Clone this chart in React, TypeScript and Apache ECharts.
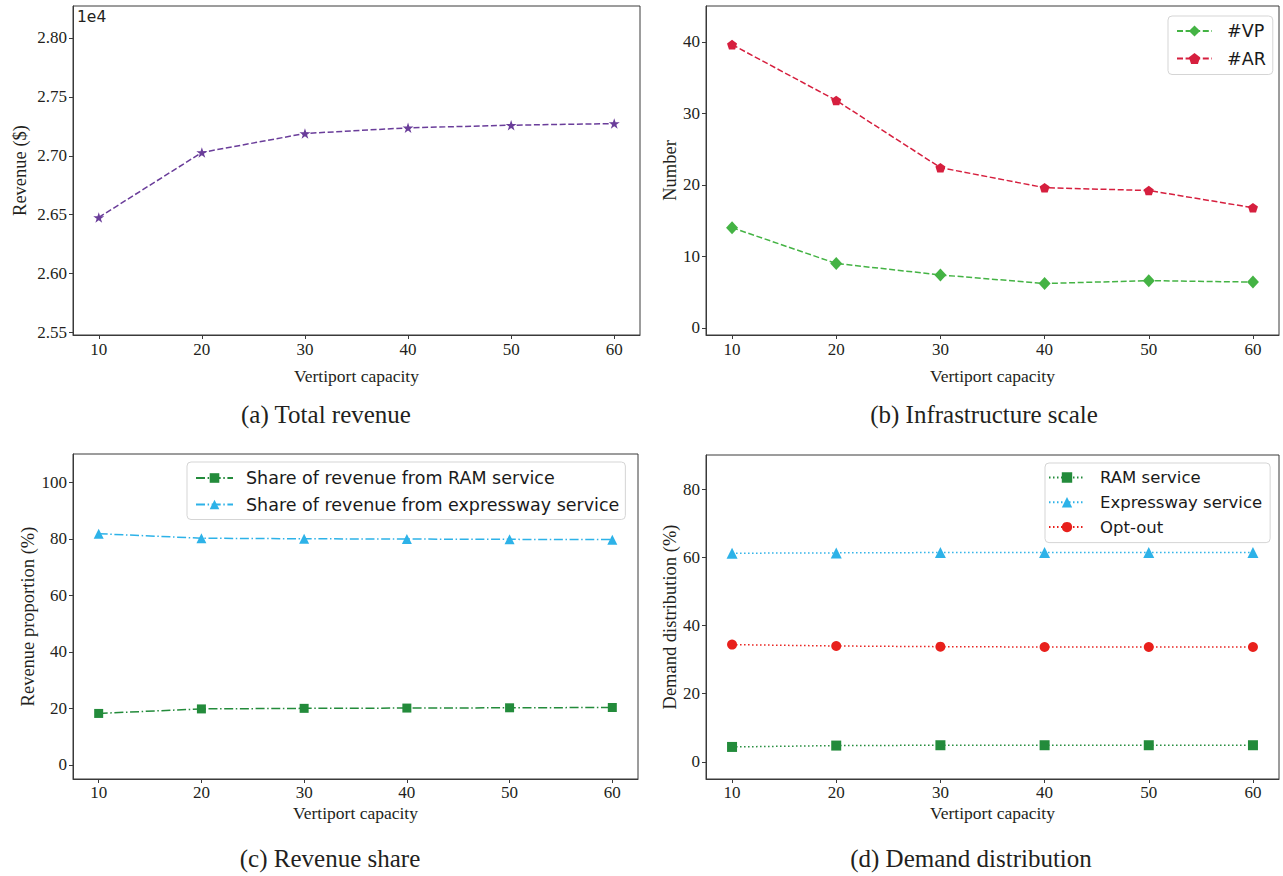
import React, { useEffect, useRef } from "react";
import * as echarts from "echarts";

// ---- data ----
const capacities = [10, 20, 30, 40, 50, 60];
const capacityTicks = [10, 20, 30, 40, 50, 60];

const totalRevenue = [26477, 27028, 27189, 27237, 27259, 27273];
const revenueTicks = [25500, 26000, 26500, 27000, 27500, 28000];

const vpCount = [14.0, 9.0, 7.4, 6.2, 6.6, 6.4];
const arCount = [39.6, 31.8, 22.4, 19.6, 19.2, 16.8];
const numberTicks = [0, 10, 20, 30, 40];

const ramRevenueShare = [18.2, 19.8, 20.0, 20.1, 20.2, 20.3];
const expresswayRevenueShare = [81.8, 80.2, 80.0, 79.9, 79.8, 79.7];
const shareTicks = [0, 20, 40, 60, 80, 100];

const ramDemand = [4.4, 4.8, 4.9, 4.9, 4.9, 4.9];
const expresswayDemand = [61.2, 61.3, 61.4, 61.4, 61.4, 61.4];
const optOutDemand = [34.4, 34.0, 33.8, 33.7, 33.7, 33.7];
const demandTicks = [0, 20, 40, 60, 80];

const captions = [
  "(a) Total revenue",
  "(b) Infrastructure scale",
  "(c) Revenue share",
  "(d) Demand distribution",
];

const STAR =
  "path://M0,-100L22.45,-30.9L95.11,-30.9L36.33,11.8L58.78,80.9L0,38.2L-58.78,80.9L-36.33,11.8L-95.11,-30.9L-22.45,-30.9Z";
const PENTAGON = "path://M0,-100L95.11,-30.9L58.78,80.9L-58.78,80.9L-95.11,-30.9Z";

const SERIF = "Liberation Serif";
const SANS = "DejaVu Sans";
const TXT = "#231f20";
const FRAME = "#3a3a3a";

const pairs = (ys: number[]) => capacities.map((x, i) => [x, ys[i]]);

function xAxis(gridIndex: number, nameGap: number, labelMargin: number) {
  return {
    type: "value",
    gridIndex,
    min: 7.5,
    max: 62.5,
    name: "Vertiport capacity",
    nameLocation: "middle",
    nameGap,
    nameTextStyle: { fontFamily: SERIF, fontSize: 17.5, color: TXT },
    axisLine: { show: true, onZero: false, lineStyle: { color: FRAME, width: 1 } },
    axisTick: { show: true, length: 4, customValues: capacityTicks, lineStyle: { color: FRAME } },
    axisLabel: {
      customValues: capacityTicks,
      margin: labelMargin,
      fontFamily: SERIF,
      fontSize: 17,
      color: TXT,
    },
    splitLine: { show: false },
  };
}

function yAxis(
  gridIndex: number,
  name: string,
  nameGap: number,
  min: number,
  max: number,
  ticks: number[],
  fmt?: (v: number) => string
) {
  return {
    type: "value",
    gridIndex,
    min,
    max,
    name,
    nameLocation: "middle",
    nameGap,
    nameTextStyle: { fontFamily: SERIF, fontSize: 18.5, color: TXT },
    axisLine: { show: true, onZero: false, lineStyle: { color: FRAME, width: 1 } },
    axisTick: { show: true, length: 4, customValues: ticks, lineStyle: { color: FRAME } },
    axisLabel: {
      customValues: ticks,
      margin: 6,
      fontFamily: SERIF,
      fontSize: 17,
      color: TXT,
      formatter: fmt ? (v: number) => fmt(v) : undefined,
    },
    splitLine: { show: false },
  };
}

function lineSeries(
  name: string,
  xi: number,
  ys: number[],
  color: string,
  dash: number[],
  symbol: string,
  size: number | number[]
) {
  return {
    type: "line",
    name,
    xAxisIndex: xi,
    yAxisIndex: xi,
    data: pairs(ys),
    symbol,
    symbolSize: size,
    symbolKeepAspect: true,
    showAllSymbol: true,
    itemStyle: { color, borderWidth: 0 },
    lineStyle: { color, width: 1.5, type: dash },
    emphasis: { disabled: true },
    z: 3,
  };
}

const DASHED = [6, 2.6];
const DASHDOT = [9, 2.6, 1.5, 2.6];
const DOTTED = [1.5, 2.5];

const GREEN_VP = "#44b344";
const RED_AR = "#d61f3e";
const PURPLE = "#6a3d9a";
const GREEN = "#238b3b";
const BLUE = "#2db2e8";
const RED = "#e8201c";

function legendBox(
  left: number,
  top: number,
  names: string[],
  itemWidth: number,
  itemHeight: number,
  itemGap: number,
  fontSize: number,
  padding: number[],
  textPad: number
) {
  return {
    left,
    top,
    orient: "vertical",
    data: names,
    itemWidth,
    itemHeight,
    itemGap,
    padding,
    selectedMode: false,
    backgroundColor: "#ffffff",
    borderColor: "#d5d5d5",
    borderWidth: 1,
    borderRadius: 4,
    textStyle: {
      fontFamily: SANS,
      fontSize,
      color: "#1a1a1a",
      padding: [0, 0, 0, textPad],
    },
  };
}

export default function App() {
  const ref = useRef<HTMLDivElement>(null);

  useEffect(() => {
    if (!ref.current) return;
    const chart = echarts.init(ref.current, undefined, { renderer: "svg" });

    const grids = [
      { left: 73, top: 6, width: 567, height: 329 },
      { left: 706, top: 6, width: 573, height: 329 },
      { left: 73, top: 454, width: 565, height: 325 },
      { left: 706, top: 455, width: 573, height: 324 },
    ].map((g) => ({
      ...g,
      show: true,
      borderColor: FRAME,
      borderWidth: 1,
      backgroundColor: "transparent",
      containLabel: false,
    }));

    const option = {
      animation: false,
      backgroundColor: "#ffffff",
      grid: grids,
      xAxis: [xAxis(0, 31.5, 6), xAxis(1, 31.5, 6), xAxis(2, 24.5, 5), xAxis(3, 24.5, 5)],
      yAxis: [
        yAxis(0, "Revenue ($)", 44, 25480, 28270, revenueTicks, (v) => (v / 10000).toFixed(2)),
        yAxis(1, "Number", 26, -1, 45, numberTicks),
        yAxis(2, "Revenue proportion (%)", 36, -5, 110, shareTicks),
        yAxis(3, "Demand distribution (%)", 27, -5, 90, demandTicks),
      ],
      legend: [
        legendBox(1168, 16, ["#VP", "#AR"], 35, 14, 9.5, 17.5, [6, 7, 7, 8], 10),
        legendBox(
          187,
          462,
          ["Share of revenue from RAM service", "Share of revenue from expressway service"],
          37,
          12,
          8.5,
          17.5,
          [7, 6, 6, 8],
          8
        ),
        legendBox(
          1045,
          463,
          ["RAM service", "Expressway service", "Opt-out"],
          36,
          13,
          7.8,
          16.5,
          [6, 8, 7, 3],
          10
        ),
      ],
      series: [
        lineSeries("Total revenue", 0, totalRevenue, PURPLE, DASHED, STAR, 11),
        lineSeries("#VP", 1, vpCount, GREEN_VP, DASHED, "diamond", [12, 13]),
        lineSeries("#AR", 1, arCount, RED_AR, DASHED, PENTAGON, 10),
        lineSeries("Share of revenue from RAM service", 2, ramRevenueShare, GREEN, DASHDOT, "rect", 9),
        lineSeries(
          "Share of revenue from expressway service",
          2,
          expresswayRevenueShare,
          BLUE,
          DASHDOT,
          "triangle",
          10
        ),
        lineSeries("RAM service", 3, ramDemand, GREEN, DOTTED, "rect", 10),
        lineSeries("Expressway service", 3, expresswayDemand, BLUE, DOTTED, "triangle", 11),
        lineSeries("Opt-out", 3, optOutDemand, RED, DOTTED, "circle", 10),
      ],
      graphic: [
        {
          type: "text",
          x: 77,
          y: 9,
          style: { text: "1e4", fontFamily: SANS, fontSize: 15.5, fill: TXT },
        },
        ...[
          [326, 414],
          [984, 414],
          [330, 858],
          [971, 858],
        ].map(([x, y], i) => ({
          type: "text",
          x,
          y,
          style: {
            text: captions[i],
            fontFamily: SERIF,
            fontSize: 25,
            fill: TXT,
            textAlign: "center",
            textVerticalAlign: "middle",
            verticalAlign: "middle",
          },
        })),
      ],
    };

    chart.setOption(option as any);
    return () => chart.dispose();
  }, []);

  return (
    <div
      ref={ref}
      style={{ position: "absolute", left: 0, top: 0, width: 1283, height: 876, background: "#fff" }}
    />
  );
}
